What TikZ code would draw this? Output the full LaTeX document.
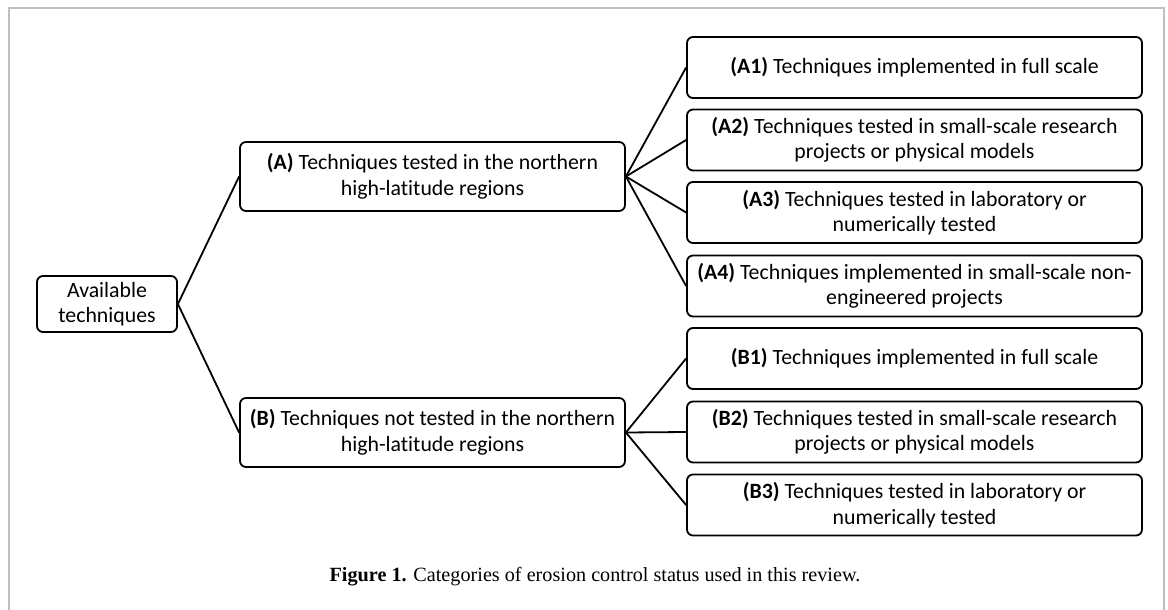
\documentclass[tikz,border=0pt]{standalone}
\usepackage{fontspec}
\setmainfont[Ligatures=NoCommon]{Carlito}
\newfontfamily\capfont{Liberation Serif}
\begin{document}
\begin{tikzpicture}[x=1pt,y=-1pt,
  box/.style={draw=black, line width=1.8pt, rounded corners=6pt, align=center,
    font=\fontsize{21.8}{25.5}\selectfont, inner sep=0pt},
  small/.style={box, minimum width=140pt, minimum height=56pt},
  mid/.style={box, minimum width=385pt, minimum height=69pt},
  leaf/.style={box, minimum width=455pt, minimum height=61pt},
  link/.style={line width=1.8pt, black}]
\useasboundingbox (0,0) rectangle (1168,610);
\draw[line width=1.5pt, black!25] (9,610) -- (9,8) -- (1164,8) -- (1164,610);
\node[small] (av) at (107,304) {Available\\techniques};
\node[mid] (A) at (432.5,176.5) {\textbf{(A)} Techniques tested in the northern\\high-latitude regions};
\node[mid] (B) at (432.5,432.5) {\textbf{(B)} Techniques not tested in the northern\\high-latitude regions};
\node[leaf] (A1) at (914.5,67.5) {\textbf{(A1)} Techniques implemented in full scale};
\node[leaf] (A2) at (914.5,140) {\textbf{(A2)} Techniques tested in small-scale research\\projects or physical models};
\node[leaf] (A3) at (914.5,212.5) {\textbf{(A3)} Techniques tested in laboratory or\\numerically tested};
\node[leaf] (A4) at (914.5,286) {\textbf{(A4)} Techniques implemented in small-scale non-\\engineered projects};
\node[leaf] (B1) at (914.5,358.5) {\textbf{(B1)} Techniques implemented in full scale};
\node[leaf] (B2) at (914.5,432) {\textbf{(B2)} Techniques tested in small-scale research\\projects or physical models};
\node[leaf] (B3) at (914.5,505) {\textbf{(B3)} Techniques tested in laboratory or\\numerically tested};
\foreach \t in {A,B} \draw[link] (av.east) -- (\t.west);
\foreach \t in {A1,A2,A3,A4} \draw[link] (A.east) -- (\t.west);
\foreach \t in {B1,B2,B3} \draw[link] (B.east) -- (\t.west);
\node[font=\capfont\fontsize{20.2}{24}\selectfont, inner sep=0pt] (cap) at (595,577) {\textbf{Figure 1.} Categories of erosion control status used in this review.};
\end{tikzpicture}
\end{document}
